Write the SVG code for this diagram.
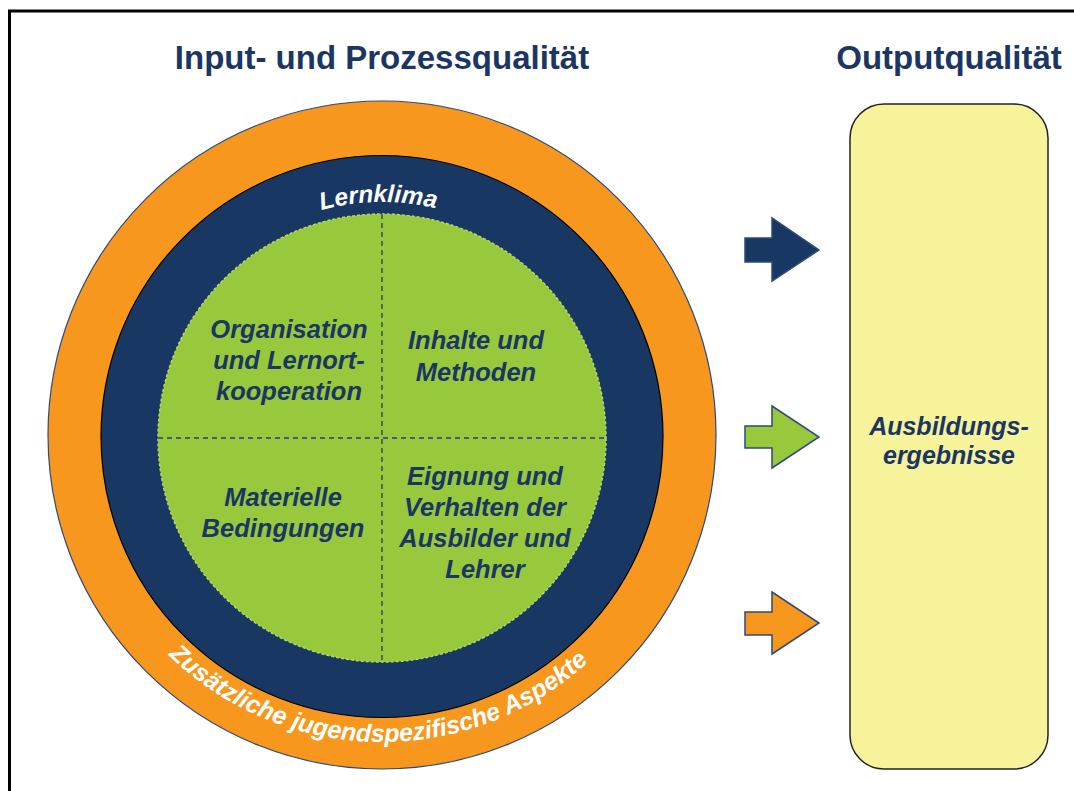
<svg xmlns="http://www.w3.org/2000/svg" xmlns:xlink="http://www.w3.org/1999/xlink" width="1074" height="791" viewBox="0 0 1074 791">
<style>
.title{font-family:"Liberation Sans",Arial,sans-serif;font-weight:bold;font-size:33px;fill:#1b3664;text-anchor:middle}
.q{font-family:"Liberation Sans",Arial,sans-serif;font-weight:bold;font-style:italic;font-size:25.5px;fill:#1b3664;text-anchor:middle}
.ring{font-family:"Liberation Sans",Arial,sans-serif;font-weight:bold;font-style:italic;fill:#ffffff}
.arrow{stroke:#2e4a7a;stroke-width:1.5;stroke-linejoin:miter}
</style>
<defs>
<path id="topArc" d="M148,436 A234,234 0 0 1 616,436" fill="none"/>
<path id="botArc" d="M76,436 A306,306 0 0 0 688,436" fill="none"/>
</defs>
<rect x="0" y="0" width="1074" height="791" fill="#ffffff"/>
<rect x="9.5" y="11" width="1100" height="800" fill="none" stroke="#000000" stroke-width="3"/>
<g id="title-left"><text class="title" x="382" y="69">Input- und Prozessqualität</text></g>
<g id="title-right"><text class="title" x="949" y="69">Outputqualität</text></g>
<g id="circle">
<circle cx="382" cy="435" r="334" fill="#f7971e" stroke="#2e4a7a" stroke-width="1.2"/>
<circle cx="382" cy="436.5" r="281" fill="#183763" stroke="#000000" stroke-width="1.2"/>
<circle cx="382" cy="438" r="224" fill="#98c83c" stroke="#b4d96a" stroke-width="1.5" stroke-dasharray="3 2"/>
<line x1="382" y1="214" x2="382" y2="662" stroke="#2a3a5e" stroke-width="1.3" stroke-dasharray="5 4"/>
<line x1="158" y1="438" x2="606" y2="438" stroke="#2b3a8a" stroke-width="1.3" stroke-dasharray="5 4"/>
</g>
<g id="lernklima"><text class="ring" font-size="24.5"><textPath xlink:href="#topArc" href="#topArc" startOffset="49.5%" text-anchor="middle">Lernklima</textPath></text></g>
<g id="aspekte"><text class="ring" font-size="25"><textPath xlink:href="#botArc" href="#botArc" startOffset="49.5%" text-anchor="middle">Zusätzliche jugendspezifische Aspekte</textPath></text></g>
<g id="q1"><text class="q"><tspan x="289" y="338">Organisation</tspan><tspan x="289" y="369">und Lernort-</tspan><tspan x="289" y="400">kooperation</tspan></text></g>
<g id="q2"><text class="q"><tspan x="476" y="349">Inhalte und</tspan><tspan x="476" y="381">Methoden</tspan></text></g>
<g id="q3"><text class="q"><tspan x="283" y="506">Materielle</tspan><tspan x="283" y="537">Bedingungen</tspan></text></g>
<g id="q4"><text class="q"><tspan x="485" y="485">Eignung und</tspan><tspan x="485" y="516">Verhalten der</tspan><tspan x="485" y="547">Ausbilder und</tspan><tspan x="485" y="578">Lehrer</tspan></text></g>
<g id="output">
<rect x="850" y="104" width="198" height="665" rx="34" ry="34" fill="#f6f39a" stroke="#222222" stroke-width="1.5"/>
<text class="q" style="font-size:25px"><tspan x="949" y="435">Ausbildungs-</tspan><tspan x="949" y="464">ergebnisse</tspan></text>
</g>
<g id="connectors">
<polygon class="arrow" points="745,238 772,238 772,218 819,250 772,281 772,262 745,262" fill="#183763"/>
<polygon class="arrow" points="745,426 772,426 772,406 819,437 772,468 772,448 745,448" fill="#98c83c"/>
<polygon class="arrow" points="745,612 772,612 772,592 819,623 772,654 772,635 745,635" fill="#f7971e"/>
</g>
</svg>
